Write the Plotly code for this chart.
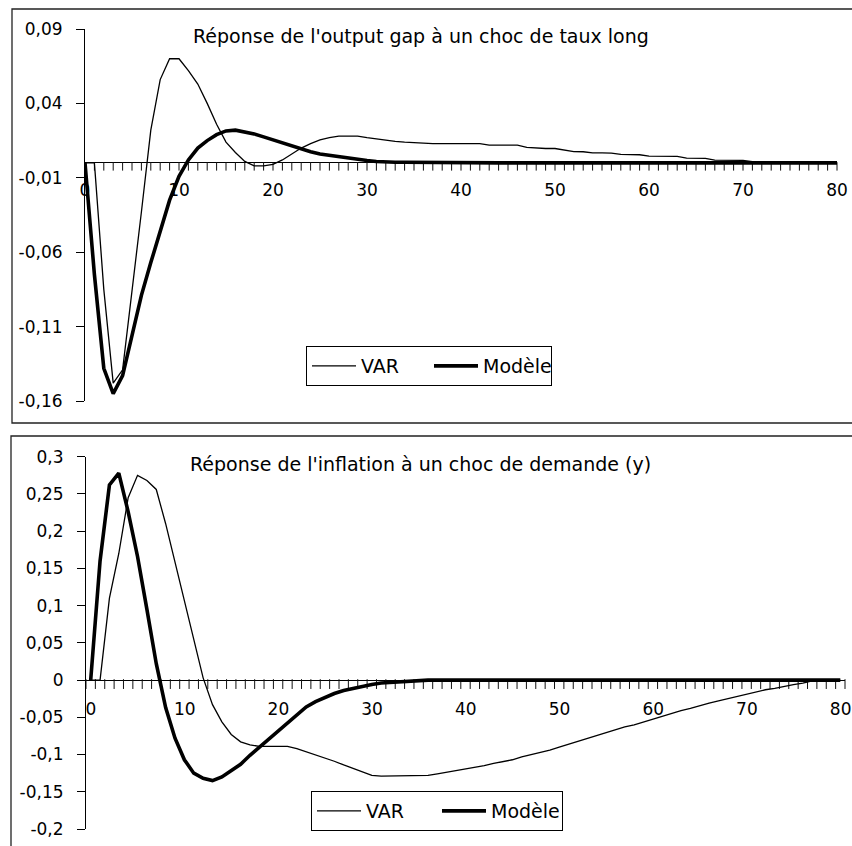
import plotly.graph_objects as go

# ---------------------------------------------------------------- data
periods = list(range(81))

output_gap_var = [
    0.0, 0.0, -0.085, -0.148, -0.139, -0.088, -0.033, 0.022, 0.056, 0.070,
    0.070, 0.062, 0.053, 0.040, 0.026, 0.014, 0.007, 0.001, -0.002, -0.002,
    -0.001, 0.002, 0.006, 0.010, 0.013, 0.0155, 0.017, 0.018, 0.018, 0.018,
    0.017, 0.016, 0.0155, 0.0145, 0.014, 0.0135, 0.013, 0.013, 0.013, 0.013,
    0.013, 0.013, 0.013, 0.012, 0.012, 0.012, 0.012, 0.0105, 0.0100, 0.0097,
    0.0097, 0.0085, 0.0076, 0.0075, 0.0067, 0.0067, 0.0066, 0.0057, 0.0056, 0.0055,
    0.0046, 0.0045, 0.0045, 0.0044, 0.0032, 0.0031, 0.0030, 0.0019, 0.0018, 0.0018,
    0.0017, 0.0009, 0.0008, 0.0008, 0.0008, 0.0007, 0.0, 0.0, 0.0, 0.0,
    0.0,
]

output_gap_model = [
    0.0, -0.075, -0.138, -0.155, -0.143, -0.116, -0.089, -0.067, -0.045, -0.025,
    -0.009, 0.002, 0.010, 0.015, 0.019, 0.0215, 0.022, 0.021, 0.0195, 0.0175,
    0.0155, 0.0135, 0.0112, 0.009, 0.0075, 0.006, 0.005, 0.004, 0.003, 0.0022,
    0.0016, 0.001, 0.0005, 0.0004, 0.0004, 0.0003, 0.0003, 0.0002, 0.0001, 0.0,
    0.0, 0.0, 0.0, 0.0, 0.0, 0.0, 0.0, 0.0, 0.0, 0.0,
    0.0, 0.0, 0.0, 0.0, 0.0, 0.0, 0.0, 0.0, 0.0, 0.0,
    0.0, 0.0, 0.0, 0.0, 0.0, 0.0, 0.0, 0.0, 0.0, 0.0,
    0.0, 0.0, 0.0, 0.0, 0.0, 0.0, 0.0, 0.0, 0.0, 0.0,
    0.0,
]

inflation_var = [
    0.0, 0.0, 0.11, 0.17, 0.245, 0.275, 0.268, 0.256, 0.21, 0.158,
    0.11, 0.056, 0.003, -0.033, -0.056, -0.073, -0.083, -0.087, -0.089, -0.089,
    -0.089, -0.089, -0.092, -0.096, -0.100, -0.105, -0.109, -0.114, -0.119, -0.124,
    -0.128, -0.129, -0.129, -0.129, -0.129, -0.129, -0.128, -0.126, -0.124, -0.121,
    -0.119, -0.117, -0.115, -0.112, -0.110, -0.107, -0.103, -0.100, -0.098, -0.094,
    -0.090, -0.086, -0.082, -0.078, -0.074, -0.071, -0.067, -0.063, -0.060, -0.056,
    -0.052, -0.049, -0.045, -0.041, -0.038, -0.034, -0.031, -0.028, -0.025, -0.022,
    -0.018, -0.016, -0.013, -0.011, -0.008, -0.006, -0.004, -0.001, 0.0, 0.0,
    0.0,
]

inflation_model = [
    0.0, 0.16, 0.262, 0.278, 0.226, 0.166, 0.095, 0.022, -0.037, -0.078,
    -0.107, -0.125, -0.132, -0.135, -0.130, -0.122, -0.113, -0.101, -0.090, -0.079,
    -0.068, -0.057, -0.046, -0.036, -0.029, -0.023, -0.018, -0.014, -0.011, -0.008,
    -0.006, -0.004, -0.003, -0.002, -0.001, 0.0, 0.0, 0.0, 0.0, 0.0,
    0.0, 0.0, 0.0, 0.0, 0.0, 0.0, 0.0, 0.0, 0.0, 0.0,
    0.0, 0.0, 0.0, 0.0, 0.0, 0.0, 0.0, 0.0, 0.0, 0.0,
    0.0, 0.0, 0.0, 0.0, 0.0, 0.0, 0.0, 0.0, 0.0, 0.0,
    0.0, 0.0, 0.0, 0.0, 0.0, 0.0, 0.0, 0.0, 0.0, 0.0,
    0.0,
]

series_names = ["VAR", "Modèle"]

top_y_ticks = [-0.16, -0.11, -0.06, -0.01, 0.04, 0.09]
top_y_labels = ["-0,16", "-0,11", "-0,06", "-0,01", "0,04", "0,09"]

bottom_y_ticks = [-0.2, -0.15, -0.1, -0.05, 0.0, 0.05, 0.1, 0.15, 0.2, 0.25, 0.3]
bottom_y_labels = ["-0,2", "-0,15", "-0,1", "-0,05", "0", "0,05", "0,1",
                   "0,15", "0,2", "0,25", "0,3"]

top_title = "Réponse de l'output gap à un choc de taux long"
bottom_title = "Réponse de l'inflation à un choc de demande (y)"

# ---------------------------------------------------------------- layout helpers
W, H = 852, 846
FONT = "DejaVu Sans"


def fx(px):
    return px / W


def fy(px):
    return 1 - px / H


def zero_position(domain, rng):
    """Paper y of value 0 on a y axis with the given domain and range."""
    d0, d1 = domain
    r0, r1 = rng
    return d0 + (0 - r0) / (r1 - r0) * (d1 - d0)


def px_to_value(px, domain, rng):
    """Data-unit length of `px` screen pixels on a y axis."""
    return px / ((domain[1] - domain[0]) * H) * (rng[1] - rng[0])


top_x_dom = [fx(85), fx(837)]
top_y_dom = [fy(401), fy(29)]
top_y_rng = [-0.16, 0.09]
top_x_rng = [0, 80]

bot_x_dom = [fx(86), fx(845)]
bot_y_dom = [fy(829), fy(456.7)]
bot_y_rng = [-0.2, 0.3]
bot_x_rng = [-0.5, 80.5]

top_zero = zero_position(top_y_dom, top_y_rng)
bot_zero = zero_position(bot_y_dom, bot_y_rng)
TICK_TOP_PX = 6
TICK_BOT_PX = 7

# top panel: one tick per period, labels every 10 periods
top_tick_vals = periods
top_tick_text = [str(p) if p % 10 == 0 else "" for p in periods]

# bottom panel: ticks on category boundaries, labels shifted to category centres
bot_tick_vals = [p - 0.5 for p in range(82)]
bot_tick_text = [str(p) if (p % 10 == 0 and p <= 80) else "" for p in range(82)]
half_category_px = round((845 - 86) / (bot_x_rng[1] - bot_x_rng[0]) / 2)

thin = dict(color="black", width=1.3)
thick = dict(color="black", width=3.6)

fig = go.Figure()

# small tick marks hanging below the 0 line of each panel
for xa, ya, vals, tick_px, dom, rng in (
        ("x", "y", top_tick_vals, TICK_TOP_PX, top_y_dom, top_y_rng),
        ("x2", "y2", bot_tick_vals, TICK_BOT_PX, bot_y_dom, bot_y_rng)):
    centre = -px_to_value(tick_px / 2 + 0.5, dom, rng)
    fig.add_trace(go.Scatter(
        x=vals, y=[centre] * len(vals), mode="markers", xaxis=xa, yaxis=ya,
        marker=dict(symbol="line-ns", size=tick_px,
                    line=dict(color="#111", width=1)),
        cliponaxis=False, showlegend=False, hoverinfo="skip"))

fig.add_trace(go.Scatter(x=periods, y=output_gap_var, mode="lines", line=thin,
                         name=series_names[0], xaxis="x", yaxis="y", legend="legend"))
fig.add_trace(go.Scatter(x=periods, y=output_gap_model, mode="lines", line=thick,
                         name=series_names[1], xaxis="x", yaxis="y", legend="legend"))
fig.add_trace(go.Scatter(x=periods, y=inflation_var, mode="lines", line=thin,
                         name=series_names[0], xaxis="x2", yaxis="y2", legend="legend2"))
fig.add_trace(go.Scatter(x=periods, y=inflation_model, mode="lines", line=thick,
                         name=series_names[1], xaxis="x2", yaxis="y2", legend="legend2"))

# empty series that register the thin strips holding the x tick labels
blank = [None] * len(periods)
for xa, ya in (("x3", "y3"), ("x4", "y4")):
    fig.add_trace(go.Scatter(x=periods, y=blank, mode="lines", xaxis=xa, yaxis=ya,
                             showlegend=False, hoverinfo="skip"))

tick_font = dict(family=FONT, size=17, color="black")

common_y = dict(showline=True, linecolor="black", linewidth=1, ticks="outside",
                ticklen=8, tickcolor="black", tickwidth=1, showgrid=False,
                zeroline=True, zerolinecolor="black", zerolinewidth=1,
                tickfont=tick_font, automargin=False,
                ticklabelstandoff=10, fixedrange=True)

data_x = dict(visible=False, fixedrange=True, showgrid=False, zeroline=False)

strip_x = dict(showgrid=False, zeroline=False, showline=False, ticks="",
               tickfont=tick_font, automargin=False, side="bottom",
               fixedrange=True, tickmode="array")
strip_y = dict(showline=False, showticklabels=False, ticks="", showgrid=False,
               zeroline=False, range=[0, 1], fixedrange=True)

fig.update_layout(
    width=W, height=H,
    margin=dict(l=0, r=0, t=0, b=0),
    template="none",
    paper_bgcolor="white", plot_bgcolor="rgba(0,0,0,0)",
    font=dict(family=FONT, color="black"),
    xaxis=dict(data_x, domain=top_x_dom, range=top_x_rng, anchor="y"),
    yaxis=dict(common_y, domain=top_y_dom, range=top_y_rng, anchor="x",
               tickmode="array", tickvals=top_y_ticks, ticktext=top_y_labels),
    xaxis3=dict(strip_x, domain=top_x_dom, range=top_x_rng, anchor="y3",
                tickvals=top_tick_vals, ticktext=top_tick_text,
                ticklabelstandoff=9),
    yaxis3=dict(strip_y, domain=[top_zero - TICK_TOP_PX / H, top_zero],
                anchor="x3"),
    xaxis2=dict(data_x, domain=bot_x_dom, range=bot_x_rng, anchor="y2"),
    yaxis2=dict(common_y, domain=bot_y_dom, range=bot_y_rng, anchor="x2",
                tickmode="array", tickvals=bottom_y_ticks, ticktext=bottom_y_labels),
    xaxis4=dict(strip_x, domain=bot_x_dom, range=bot_x_rng, anchor="y4",
                tickvals=bot_tick_vals, ticktext=bot_tick_text,
                ticklabelstandoff=10, ticklabelshift=half_category_px),
    yaxis4=dict(strip_y, domain=[bot_zero - TICK_BOT_PX / H, bot_zero],
                anchor="x4"),
    legend=dict(x=fx(306), y=fy(386), xanchor="left", yanchor="bottom",
                orientation="h", bgcolor="white", bordercolor="black",
                borderwidth=1, itemwidth=44, entrywidth=63,
                font=dict(family=FONT, size=19, color="black")),
    legend2=dict(x=fx(311), y=fy(791), xanchor="left", yanchor="top",
                 orientation="h", bgcolor="white", bordercolor="black",
                 borderwidth=1, itemwidth=44, entrywidth=66,
                 font=dict(family=FONT, size=19, color="black")),
    annotations=[
        dict(text=top_title, xref="paper", yref="paper", x=fx(421), y=fy(36),
             xanchor="center", yanchor="middle", showarrow=False,
             font=dict(family=FONT, size=19, color="black")),
        dict(text=bottom_title, xref="paper", yref="paper", x=fx(420), y=fy(464),
             xanchor="center", yanchor="middle", showarrow=False,
             font=dict(family=FONT, size=19, color="black")),
    ],
    shapes=[
        dict(type="rect", xref="paper", yref="paper", x0=fx(12), x1=1.05,
             y0=fy(423), y1=fy(9), line=dict(color="#222", width=1.3),
             fillcolor="rgba(0,0,0,0)", layer="below"),
        dict(type="rect", xref="paper", yref="paper", x0=fx(11), x1=1.05,
             y0=-0.05, y1=fy(436), line=dict(color="#222", width=1.3),
             fillcolor="rgba(0,0,0,0)", layer="below"),
    ],
)

fig.write_html("out.html", config={"displayModeBar": False})
